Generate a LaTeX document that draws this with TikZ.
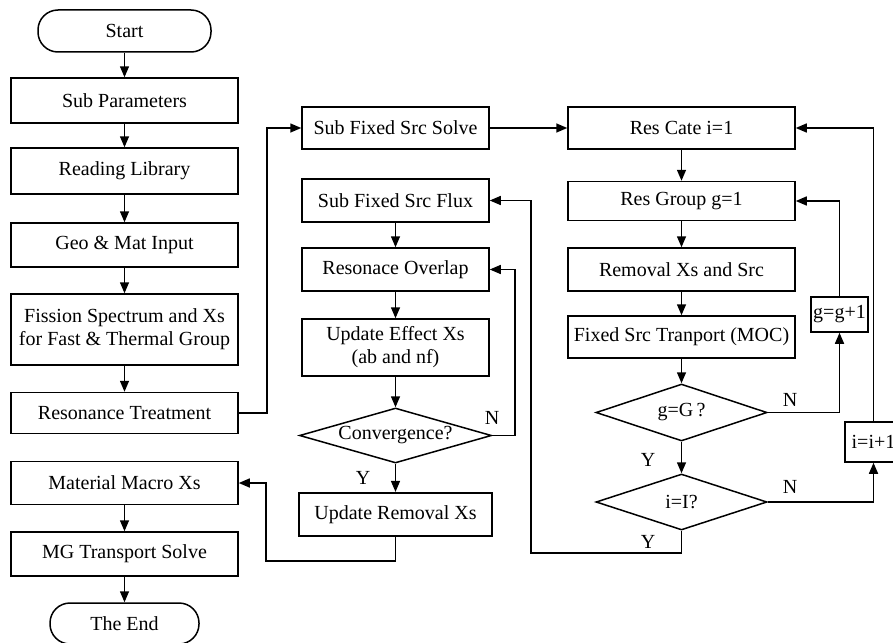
\documentclass[tikz,border=0pt]{standalone}
\usepackage{fontspec}
\setmainfont{Liberation Serif}
\usetikzlibrary{arrows.meta,shapes.geometric}
\begin{document}
\begin{tikzpicture}[x=1pt,y=-1pt,
  line width=1.5pt,
  font=\fontsize{20}{23}\selectfont,
  box/.style={draw,rectangle,inner sep=0pt,align=center},
  term/.style={draw,rectangle,rounded corners=20pt,inner sep=0pt},
  dia/.style={draw,diamond,inner sep=0pt},
  arr/.style={-{Triangle[length=11pt,width=9pt]}},
  lbl/.style={inner sep=0pt}]
\useasboundingbox (0,0) rectangle (893,642);
\fill[white] (0,0) rectangle (893,642);
% left column
\node[term,minimum width=173,minimum height=42] (start) at (124.5,31) {Start};
\node[box,minimum width=227,minimum height=45] (subp) at (124.5,100.5) {Sub Parameters};
\node[box,minimum width=227,minimum height=46] (rl) at (124.5,171) {Reading Library};
\node[box,minimum width=227,minimum height=44] (geo) at (124.5,245) {Geo \& Mat Input};
\node[box,minimum width=227,minimum height=71] (fis) at (124.5,329.5) {Fission Spectrum and Xs\\for Fast \& Thermal Group};
\node[box,minimum width=227,minimum height=41] (rt) at (124.5,413) {Resonance Treatment};
\node[box,minimum width=227,minimum height=43] (mm) at (124.5,483) {Material Macro Xs};
\node[box,minimum width=227,minimum height=44] (mg) at (124.5,554) {MG Transport Solve};
\node[term,minimum width=149,minimum height=41] (end) at (124.5,623.5) {The End};
% middle column
\node[box,minimum width=187,minimum height=42] (sfs) at (395.5,128) {Sub Fixed Src Solve};
\node[box,minimum width=187,minimum height=43] (sff) at (395.5,200.5) {Sub Fixed Src Flux};
\node[box,minimum width=187,minimum height=43] (ro) at (395.5,269.5) {Resonace Overlap};
\node[box,minimum width=187,minimum height=57] (ue) at (395.5,347.5) {Update Effect Xs\\(ab and nf)};
\node[dia,minimum width=192,minimum height=55] (cv) at (395.5,435.5) {};
\node[lbl] at (cv) {Convergence?};
\node[box,line width=2.2pt,minimum width=193,minimum height=43] (ur) at (395.5,514.5) {Update Removal Xs};
% right column
\node[box,minimum width=227,minimum height=42] (rc) at (681.5,128) {Res Cate i=1};
\node[box,minimum width=227,minimum height=39] (rg) at (681.5,201) {Res Group g=1};
\node[box,minimum width=227,minimum height=43] (rx) at (681.5,269.5) {Removal Xs and Src};
\node[box,minimum width=227,minimum height=42] (fst) at (681.5,337) {Fixed Src Tranport (MOC)};
\node[dia,minimum width=171,minimum height=57] (gG) at (681.5,412.5) {};
\node[lbl] at (gG) {g=G\,?};
\node[dia,minimum width=171,minimum height=56] (iI) at (681.5,502) {};
\node[lbl] at (iI) {i=I?};
\node[box,minimum width=57,minimum height=35] (ggp) at (839.5,314.5) {g=g+1};
\node[box,minimum width=57,minimum height=40] (iip) at (873.5,442) {i=i+1};
% coordinates
\coordinate (rtc) at (267,413);
\coordinate (cvn) at (515,435.5);
\coordinate (urb) at (266,561);
\coordinate (iiy) at (531,553);
% left arrows
\draw[arr] (start) -- (subp);
\draw[arr] (subp) -- (rl);
\draw[arr] (rl) -- (geo);
\draw[arr] (geo) -- (fis);
\draw[arr] (fis) -- (rt);
\draw[arr] (mm) -- (mg);
\draw[arr] (mg) -- (end);
\draw[arr] (rt.east) -- (rtc) |- (sfs.west);
% middle
\draw[arr] (sfs.east) -- (rc.west);
\draw[arr] (sff) -- (ro);
\draw[arr] (ro) -- (ue);
\draw[arr] (ue) -- (cv.north);
\draw[arr] (cv.south) -- (ur);
\draw[arr] (cv.east) -- (cvn) |- (ro.east);
\draw[arr] (ur.south) |- (urb) |- (mm.east);
% right
\draw[arr] (rc) -- (rg);
\draw[arr] (rg) -- (rx);
\draw[arr] (rx) -- (fst);
\draw[arr] (fst) -- (gG.north);
\draw[arr] (gG.south) -- (iI.north);
\draw[arr] (gG.east) -| (ggp.south);
\draw[arr] (ggp.north) |- (rg.east);
\draw[arr] (iI.east) -| (iip.south);
\draw[arr] (iip.north) |- (rc.east);
\draw[arr] (iI.south) |- (iiy) |- (sff.east);
% labels
\node[lbl] at (492,418) {N};
\node[lbl] at (363,478) {Y};
\node[lbl] at (790,400) {N};
\node[lbl] at (648,460) {Y};
\node[lbl] at (790,487) {N};
\node[lbl] at (648,542) {Y};
\end{tikzpicture}
\end{document}
